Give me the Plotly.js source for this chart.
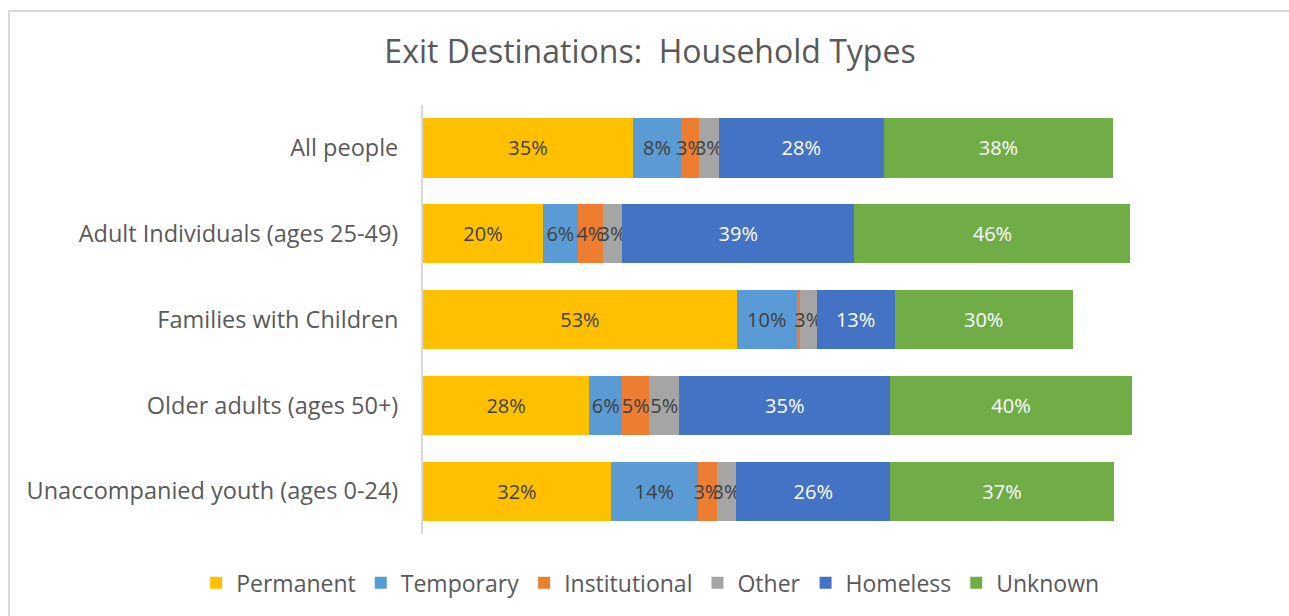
<!DOCTYPE html>
<html>
<head>
<meta charset="utf-8">
<script src="https://cdn.plot.ly/plotly-3.0.1.min.js"></script>
<style>
  html, body { margin: 0; padding: 0; background: #fff; }
  #wrap { position: relative; width: 1289px; height: 616px; }
  #chart { width: 1289px; height: 616px; }
  #frame { position: absolute; left: 8px; top: 10px; width: 1300px; height: 620px;
           border-left: 2px solid #d9d9d9; border-top: 2px solid #d9d9d9; pointer-events: none; }
</style>
</head>
<body>
<div id="wrap">
  <div id="chart"></div>
  <div id="frame"></div>
</div>
<script>
const categories = [
  "All people",
  "Adult Individuals (ages 25-49)",
  "Families with Children",
  "Older adults (ages 50+)",
  "Unaccompanied youth (ages 0-24)"
];
const seriesNames = ["Permanent", "Temporary", "Institutional", "Other", "Homeless", "Unknown"];
const permanent     = [35.0, 20.0, 52.3, 27.7, 31.3];
const temporary     = [8.0, 5.8, 10.0, 5.5, 14.5];
const institutional = [3.0, 4.2, 0.5, 4.5, 3.2];
const other         = [3.3, 3.2, 2.8, 5.0, 3.2];
const homeless      = [27.5, 38.7, 13.0, 35.2, 25.7];
const unknown       = [38.2, 46.0, 29.7, 40.2, 37.2];
const labelPermanent     = ["35%", "20%", "53%", "28%", "32%"];
const labelTemporary     = ["8%", "6%", "10%", "6%", "14%"];
const labelInstitutional = ["3%", "4%", "", "5%", "3%"];
const labelOther         = ["3%", "3%", "3%", "5%", "3%"];
const labelHomeless      = ["28%", "39%", "13%", "35%", "26%"];
const labelUnknown       = ["38%", "46%", "30%", "40%", "37%"];

const colors = ["#FFC000", "#5B9BD5", "#ED7D31", "#A5A5A5", "#4472C4", "#70AD47"];
const textColors = ["#404040", "#404040", "#404040", "#404040", "#ffffff", "#ffffff"];
const values = [permanent, temporary, institutional, other, homeless, unknown];
const labels = [labelPermanent, labelTemporary, labelInstitutional, labelOther, labelHomeless, labelUnknown];

const FONT = "'Open Sans', sans-serif";

const traces = seriesNames.map((name, i) => ({
  type: "bar",
  orientation: "h",
  name: name,
  y: categories,
  x: values[i],
  text: labels[i],
  textposition: "inside",
  insidetextanchor: "middle",
  textangle: 0,
  constraintext: "none",
  cliponaxis: false,
  textfont: { family: FONT, size: 20, color: textColors[i] },
  marker: { color: colors[i], line: { width: 0 } },
  hoverinfo: "name+x"
}));

const layout = {
  width: 1289,
  height: 616,
  barmode: "stack",
  bargap: 0.31,
  paper_bgcolor: "#ffffff",
  plot_bgcolor: "#ffffff",
  margin: { l: 423, r: 26, t: 105, b: 82 },
  title: {
    text: "Exit Destinations:\u00a0 Household Types",
    font: { family: FONT, size: 32, color: "#595959" },
    x: 650 / 1289, xanchor: "center", xref: "container",
    y: 1 - 52 / 616, yanchor: "middle", yref: "container"
  },
  xaxis: {
    range: [0, 140],
    visible: false,
    showgrid: false,
    zeroline: false,
    fixedrange: true
  },
  yaxis: {
    autorange: "reversed",
    showline: true,
    linecolor: "#d9d9d9",
    linewidth: 2,
    ticks: "",
    ticklabelstandoff: 18,
    tickfont: { family: FONT, size: 23.5, color: "#595959" },
    showgrid: false,
    fixedrange: true
  },
  showlegend: true,
  legend: {
    orientation: "h",
    xref: "paper",
    x: -0.27,
    xanchor: "left",
    yref: "paper",
    y: -0.114,
    yanchor: "middle",
    font: { family: FONT, size: 23, color: "#595959" },
    traceorder: "normal",
    itemclick: false,
    itemdoubleclick: false
  }
};

Plotly.newPlot("chart", traces, layout, { displayModeBar: false, staticPlot: true });
</script>
</body>
</html>
